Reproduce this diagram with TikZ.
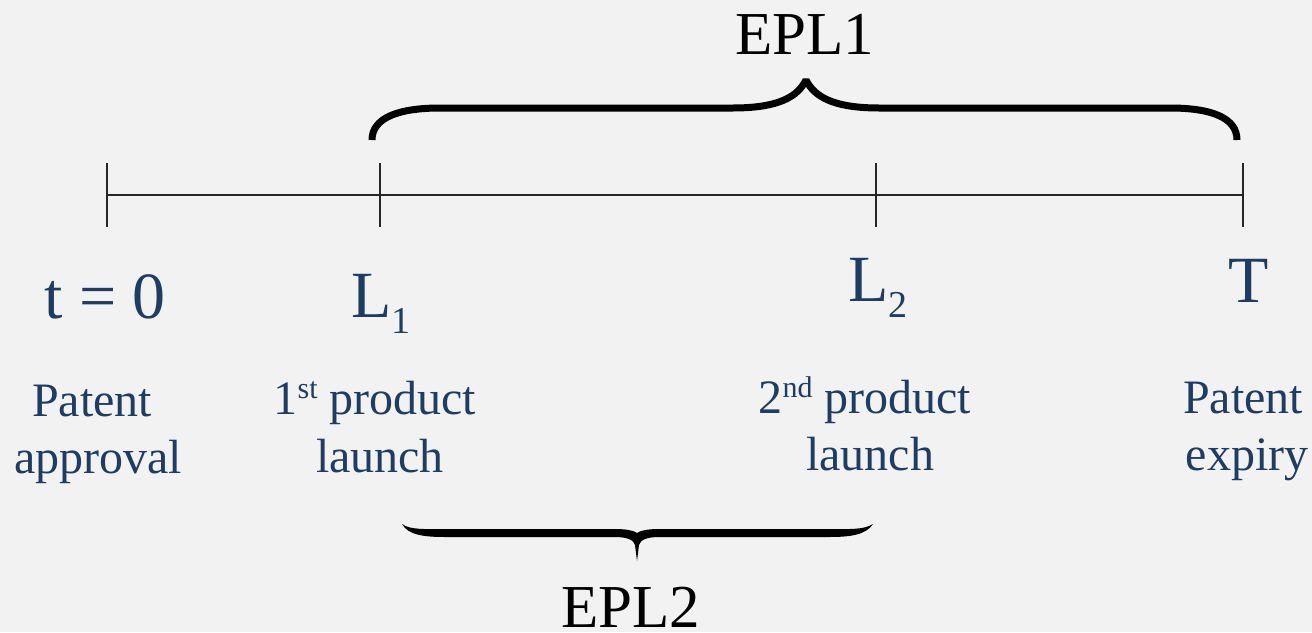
\documentclass[tikz,border=0pt]{standalone}
\usepackage{fontspec}
\setmainfont{Liberation Serif}
\definecolor{lbl}{HTML}{1F3D63}
\definecolor{bg}{HTML}{F2F2F2}
\begin{document}
\begin{tikzpicture}[x=0.5pt,y=-0.5pt,
  big/.style={text=lbl,font=\fontsize{33}{33}\selectfont,inner sep=0pt,anchor=base},
  small/.style={text=lbl,font=\fontsize{24}{24}\selectfont,inner sep=0pt,anchor=base},
  epl/.style={text=black,font=\fontsize{30.5}{30.5}\selectfont,inner sep=0pt,anchor=base},
  axis/.style={line width=0.8pt,draw=black!85},
  bracestroke/.style={line width=3.5pt,line cap=butt,line join=bevel,draw=black}]
\fill[bg] (0,0) rectangle (1312,632);
\useasboundingbox (0,0) rectangle (1312,632);

% timeline
\coordinate (p0) at (107,195);
\coordinate (p1) at (380,195);
\coordinate (p2) at (876,195);
\coordinate (p3) at (1243,195);
\draw[axis] (p0) -- (p3);
\foreach \p in {p0,p1,p2,p3} \draw[axis] (\p) ++(0,-32) -- ++(0,64);

% main labels
\node[big] (t0) at (105,318) {t = 0};
\node[big] (l1) at (381,317) {L\raisebox{-8pt}{\fontsize{19}{19}\selectfont 1}};
\node[big] (l2) at (878,301) {L\raisebox{-8pt}{\fontsize{19}{19}\selectfont 2}};
\node[big] (tT) at (1249,302) {T};

% descriptions
\node[small] (a1) at (92,416) {Patent};
\node[small] (a2) at (98,473) {approval};
\node[small] (b1) at (375,414) {1\raisebox{8pt}{\fontsize{15}{15}\selectfont st} product};
\node[small] (b2) at (380,472) {launch};
\node[small] (c1) at (865,413) {2\raisebox{8pt}{\fontsize{15}{15}\selectfont nd} product};
\node[small] (c2) at (870,470) {launch};
\node[small] (d1) at (1243,413) {Patent};
\node[small] (d2) at (1247,470) {expiry};

% EPL1 brace
\draw[bracestroke] (372,140) .. controls (372,118) and (398,108) .. (440,108)
  -- (733,108) .. controls (780,108) and (798,96) .. (806,80)
  .. controls (814,96) and (832,108) .. (879,108)
  -- (1170,108) .. controls (1212,108) and (1237,118) .. (1237,140);
\node[epl] (e1) at (805,54) {EPL1};

% EPL2 brace
\fill[black] (402,524) .. controls (410,530) and (425,529) .. (445,529) -- (615,529)
  .. controls (628,529) and (634,531) .. (637,533)
  .. controls (640,531) and (646,529) .. (659,529) -- (829,529)
  .. controls (849,529) and (864,530) .. (873,524)
  .. controls (866,535) and (850,537) .. (829,537) -- (659,537)
  .. controls (647,537) and (640,540) .. (639,545) -- (637,561) -- (635,545)
  .. controls (634,540) and (627,537) .. (615,537) -- (445,537)
  .. controls (424,537) and (408,535) .. (402,524) -- cycle;
\node[epl] (e2) at (631,627) {EPL2};
\end{tikzpicture}
\end{document}
